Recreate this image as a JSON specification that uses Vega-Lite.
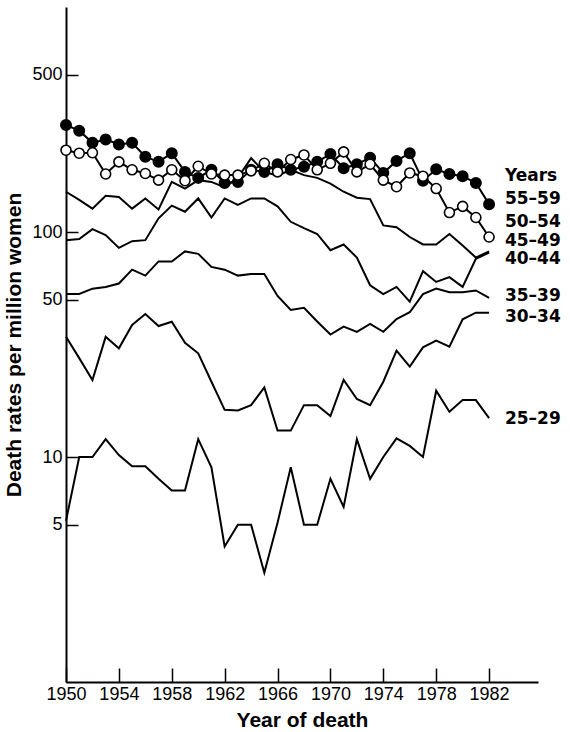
{
  "$schema": "https://vega.github.io/schema/vega-lite/v6.json",
  "width": 472,
  "height": 675,
  "autosize": {"type": "none"},
  "padding": {"left": 66, "top": 7, "right": 32, "bottom": 50},
  "background": "white",
  "config": {
    "view": {"stroke": null},
    "font": "Liberation Sans",
    "axis": {
      "grid": false,
      "domainColor": "black",
      "domainWidth": 2,
      "tickColor": "black",
      "tickWidth": 1.5,
      "labelColor": "black",
      "labelFont": "Liberation Sans",
      "labelFontSize": 18,
      "titleColor": "black",
      "titleFont": "Liberation Sans",
      "titleFontSize": 21,
      "titleFontWeight": "bold",
      "labelFlush": false,
      "labelOverlap": false
    }
  },
  "datasets": {
    "series": [
      {"year":1950,"group":"55–59","rate":299},{"year":1951,"group":"55–59","rate":282},{"year":1952,"group":"55–59","rate":249},{"year":1953,"group":"55–59","rate":258},{"year":1954,"group":"55–59","rate":245},{"year":1955,"group":"55–59","rate":249},{"year":1956,"group":"55–59","rate":216},{"year":1957,"group":"55–59","rate":205},{"year":1958,"group":"55–59","rate":224},{"year":1959,"group":"55–59","rate":185},{"year":1960,"group":"55–59","rate":174},{"year":1961,"group":"55–59","rate":189},{"year":1962,"group":"55–59","rate":165},{"year":1963,"group":"55–59","rate":167},{"year":1964,"group":"55–59","rate":189},{"year":1965,"group":"55–59","rate":185},{"year":1966,"group":"55–59","rate":200},{"year":1967,"group":"55–59","rate":189},{"year":1968,"group":"55–59","rate":195},{"year":1969,"group":"55–59","rate":205},{"year":1970,"group":"55–59","rate":222},{"year":1971,"group":"55–59","rate":192},{"year":1972,"group":"55–59","rate":200},{"year":1973,"group":"55–59","rate":214},{"year":1974,"group":"55–59","rate":183},{"year":1975,"group":"55–59","rate":207},{"year":1976,"group":"55–59","rate":224},{"year":1977,"group":"55–59","rate":169},{"year":1978,"group":"55–59","rate":190},{"year":1979,"group":"55–59","rate":181},{"year":1980,"group":"55–59","rate":177},{"year":1981,"group":"55–59","rate":165},{"year":1982,"group":"55–59","rate":133},
      {"year":1950,"group":"50–54","rate":231},{"year":1951,"group":"50–54","rate":224},{"year":1952,"group":"50–54","rate":225},{"year":1953,"group":"50–54","rate":181},{"year":1954,"group":"50–54","rate":205},{"year":1955,"group":"50–54","rate":189},{"year":1956,"group":"50–54","rate":182},{"year":1957,"group":"50–54","rate":170},{"year":1958,"group":"50–54","rate":189},{"year":1959,"group":"50–54","rate":169},{"year":1960,"group":"50–54","rate":196},{"year":1961,"group":"50–54","rate":181},{"year":1962,"group":"50–54","rate":179},{"year":1963,"group":"50–54","rate":179},{"year":1964,"group":"50–54","rate":187},{"year":1965,"group":"50–54","rate":202},{"year":1966,"group":"50–54","rate":185},{"year":1967,"group":"50–54","rate":210},{"year":1968,"group":"50–54","rate":220},{"year":1969,"group":"50–54","rate":189},{"year":1970,"group":"50–54","rate":202},{"year":1971,"group":"50–54","rate":227},{"year":1972,"group":"50–54","rate":185},{"year":1973,"group":"50–54","rate":200},{"year":1974,"group":"50–54","rate":170},{"year":1975,"group":"50–54","rate":159},{"year":1976,"group":"50–54","rate":183},{"year":1977,"group":"50–54","rate":177},{"year":1978,"group":"50–54","rate":156},{"year":1979,"group":"50–54","rate":122},{"year":1980,"group":"50–54","rate":130},{"year":1981,"group":"50–54","rate":116},{"year":1982,"group":"50–54","rate":95},
      {"year":1950,"group":"45–49","rate":151},{"year":1951,"group":"45–49","rate":139},{"year":1952,"group":"45–49","rate":127},{"year":1953,"group":"45–49","rate":145},{"year":1954,"group":"45–49","rate":143},{"year":1955,"group":"45–49","rate":127},{"year":1956,"group":"45–49","rate":141},{"year":1957,"group":"45–49","rate":126},{"year":1958,"group":"45–49","rate":167},{"year":1959,"group":"45–49","rate":156},{"year":1960,"group":"45–49","rate":170},{"year":1961,"group":"45–49","rate":167},{"year":1962,"group":"45–49","rate":158},{"year":1963,"group":"45–49","rate":174},{"year":1964,"group":"45–49","rate":213},{"year":1965,"group":"45–49","rate":185},{"year":1966,"group":"45–49","rate":178},{"year":1967,"group":"45–49","rate":189},{"year":1968,"group":"45–49","rate":179},{"year":1969,"group":"45–49","rate":174},{"year":1970,"group":"45–49","rate":164},{"year":1971,"group":"45–49","rate":151},{"year":1972,"group":"45–49","rate":142},{"year":1973,"group":"45–49","rate":140},{"year":1974,"group":"45–49","rate":107},{"year":1975,"group":"45–49","rate":105},{"year":1976,"group":"45–49","rate":95},{"year":1977,"group":"45–49","rate":88},{"year":1978,"group":"45–49","rate":88},{"year":1979,"group":"45–49","rate":98},{"year":1980,"group":"45–49","rate":87},{"year":1981,"group":"45–49","rate":77},{"year":1982,"group":"45–49","rate":82},
      {"year":1950,"group":"40–44","rate":92},{"year":1951,"group":"40–44","rate":93},{"year":1952,"group":"40–44","rate":103},{"year":1953,"group":"40–44","rate":97},{"year":1954,"group":"40–44","rate":85},{"year":1955,"group":"40–44","rate":91},{"year":1956,"group":"40–44","rate":92},{"year":1957,"group":"40–44","rate":115},{"year":1958,"group":"40–44","rate":131},{"year":1959,"group":"40–44","rate":123},{"year":1960,"group":"40–44","rate":141},{"year":1961,"group":"40–44","rate":116},{"year":1962,"group":"40–44","rate":141},{"year":1963,"group":"40–44","rate":132},{"year":1964,"group":"40–44","rate":141},{"year":1965,"group":"40–44","rate":141},{"year":1966,"group":"40–44","rate":130},{"year":1967,"group":"40–44","rate":111},{"year":1968,"group":"40–44","rate":104},{"year":1969,"group":"40–44","rate":98},{"year":1970,"group":"40–44","rate":83},{"year":1971,"group":"40–44","rate":88},{"year":1972,"group":"40–44","rate":77},{"year":1973,"group":"40–44","rate":58},{"year":1974,"group":"40–44","rate":53},{"year":1975,"group":"40–44","rate":57},{"year":1976,"group":"40–44","rate":49},{"year":1977,"group":"40–44","rate":67},{"year":1978,"group":"40–44","rate":60},{"year":1979,"group":"40–44","rate":63},{"year":1980,"group":"40–44","rate":57},{"year":1981,"group":"40–44","rate":76},{"year":1982,"group":"40–44","rate":81},
      {"year":1950,"group":"35–39","rate":53},{"year":1951,"group":"35–39","rate":53},{"year":1952,"group":"35–39","rate":56},{"year":1953,"group":"35–39","rate":57},{"year":1954,"group":"35–39","rate":59},{"year":1955,"group":"35–39","rate":68},{"year":1956,"group":"35–39","rate":64},{"year":1957,"group":"35–39","rate":74},{"year":1958,"group":"35–39","rate":74},{"year":1959,"group":"35–39","rate":82},{"year":1960,"group":"35–39","rate":80},{"year":1961,"group":"35–39","rate":70},{"year":1962,"group":"35–39","rate":68},{"year":1963,"group":"35–39","rate":64},{"year":1964,"group":"35–39","rate":65},{"year":1965,"group":"35–39","rate":65},{"year":1966,"group":"35–39","rate":52},{"year":1967,"group":"35–39","rate":45},{"year":1968,"group":"35–39","rate":46},{"year":1969,"group":"35–39","rate":40},{"year":1970,"group":"35–39","rate":35},{"year":1971,"group":"35–39","rate":38},{"year":1972,"group":"35–39","rate":36},{"year":1973,"group":"35–39","rate":39},{"year":1974,"group":"35–39","rate":36},{"year":1975,"group":"35–39","rate":41},{"year":1976,"group":"35–39","rate":44},{"year":1977,"group":"35–39","rate":53},{"year":1978,"group":"35–39","rate":56},{"year":1979,"group":"35–39","rate":54},{"year":1980,"group":"35–39","rate":54},{"year":1981,"group":"35–39","rate":55},{"year":1982,"group":"35–39","rate":51},
      {"year":1950,"group":"30–34","rate":34.2},{"year":1951,"group":"30–34","rate":27.5},{"year":1952,"group":"30–34","rate":22},{"year":1953,"group":"30–34","rate":34.2},{"year":1954,"group":"30–34","rate":30.4},{"year":1955,"group":"30–34","rate":38.6},{"year":1956,"group":"30–34","rate":43.2},{"year":1957,"group":"30–34","rate":38.2},{"year":1958,"group":"30–34","rate":39.9},{"year":1959,"group":"30–34","rate":32.2},{"year":1960,"group":"30–34","rate":28.9},{"year":1961,"group":"30–34","rate":21.6},{"year":1962,"group":"30–34","rate":16.2},{"year":1963,"group":"30–34","rate":16.1},{"year":1964,"group":"30–34","rate":17},{"year":1965,"group":"30–34","rate":20.4},{"year":1966,"group":"30–34","rate":13.1},{"year":1967,"group":"30–34","rate":13.1},{"year":1968,"group":"30–34","rate":17},{"year":1969,"group":"30–34","rate":17},{"year":1970,"group":"30–34","rate":15.2},{"year":1971,"group":"30–34","rate":22},{"year":1972,"group":"30–34","rate":18.1},{"year":1973,"group":"30–34","rate":17},{"year":1974,"group":"30–34","rate":21.6},{"year":1975,"group":"30–34","rate":29.7},{"year":1976,"group":"30–34","rate":25.2},{"year":1977,"group":"30–34","rate":30.7},{"year":1978,"group":"30–34","rate":32.9},{"year":1979,"group":"30–34","rate":30.9},{"year":1980,"group":"30–34","rate":40.9},{"year":1981,"group":"30–34","rate":43.8},{"year":1982,"group":"30–34","rate":43.8},
      {"year":1950,"group":"25–29","rate":5.2},{"year":1951,"group":"25–29","rate":10},{"year":1952,"group":"25–29","rate":10},{"year":1953,"group":"25–29","rate":12},{"year":1954,"group":"25–29","rate":10.2},{"year":1955,"group":"25–29","rate":9.1},{"year":1956,"group":"25–29","rate":9.1},{"year":1957,"group":"25–29","rate":8},{"year":1958,"group":"25–29","rate":7.1},{"year":1959,"group":"25–29","rate":7.1},{"year":1960,"group":"25–29","rate":12},{"year":1961,"group":"25–29","rate":9},{"year":1962,"group":"25–29","rate":4},{"year":1963,"group":"25–29","rate":5},{"year":1964,"group":"25–29","rate":5},{"year":1965,"group":"25–29","rate":3.06},{"year":1966,"group":"25–29","rate":5.1},{"year":1967,"group":"25–29","rate":9},{"year":1968,"group":"25–29","rate":5},{"year":1969,"group":"25–29","rate":5},{"year":1970,"group":"25–29","rate":8},{"year":1971,"group":"25–29","rate":6},{"year":1972,"group":"25–29","rate":12},{"year":1973,"group":"25–29","rate":8},{"year":1974,"group":"25–29","rate":10},{"year":1975,"group":"25–29","rate":12.1},{"year":1976,"group":"25–29","rate":11.2},{"year":1977,"group":"25–29","rate":10},{"year":1978,"group":"25–29","rate":19.7},{"year":1979,"group":"25–29","rate":15.9},{"year":1980,"group":"25–29","rate":17.9},{"year":1981,"group":"25–29","rate":17.9},{"year":1982,"group":"25–29","rate":14.9}
    ],
    "labels": [
      {"year":1983.2,"rate":177,"label":"Years"},
      {"year":1983.2,"rate":139.5,"label":"55–59"},
      {"year":1983.2,"rate":111,"label":"50–54"},
      {"year":1983.2,"rate":91.2,"label":"45–49"},
      {"year":1983.2,"rate":75.6,"label":"40–44"},
      {"year":1983.2,"rate":52.2,"label":"35–39"},
      {"year":1983.2,"rate":41.7,"label":"30–34"},
      {"year":1983.2,"rate":14.8,"label":"25–29"}
    ]
  },
  "encoding": {
    "x": {
      "field": "year", "type": "quantitative",
      "scale": {"domain": [1950, 1985.7], "nice": false, "zero": false},
      "axis": {
        "title": "Year of death",
        "values": [1950,1954,1958,1962,1966,1970,1974,1978,1982],
        "format": "d",
        "tickSize": -14,
        "labelPadding": 17,
        "titlePadding": 6
      }
    },
    "y": {
      "field": "rate", "type": "quantitative",
      "scale": {"type": "log", "domain": [1, 1000], "nice": false},
      "axis": {
        "title": "Death rates per million women",
        "values": [5, 10, 50, 100, 500],
        "format": "d",
        "tickSize": -12,
        "labelPadding": 16,
        "titlePadding": 7
      }
    }
  },
  "layer": [
    {
      "data": {"name": "series"},
      "mark": {"type": "line", "color": "black", "strokeWidth": 2},
      "encoding": {"detail": {"field": "group"}}
    },
    {
      "data": {"name": "series"},
      "transform": [{"filter": "datum.group === '55–59'"}],
      "mark": {"type": "point", "filled": true, "fill": "black", "stroke": "black", "size": 100, "opacity": 1}
    },
    {
      "data": {"name": "series"},
      "transform": [{"filter": "datum.group === '50–54'"}],
      "mark": {"type": "point", "filled": true, "fill": "white", "stroke": "black", "strokeWidth": 1.6, "size": 100, "opacity": 1}
    },
    {
      "data": {"name": "labels"},
      "mark": {"type": "text", "align": "left", "baseline": "middle", "fontSize": 17, "fontWeight": "bold", "color": "black", "font": "DejaVu Sans"},
      "encoding": {"text": {"field": "label"}}
    }
  ]
}
